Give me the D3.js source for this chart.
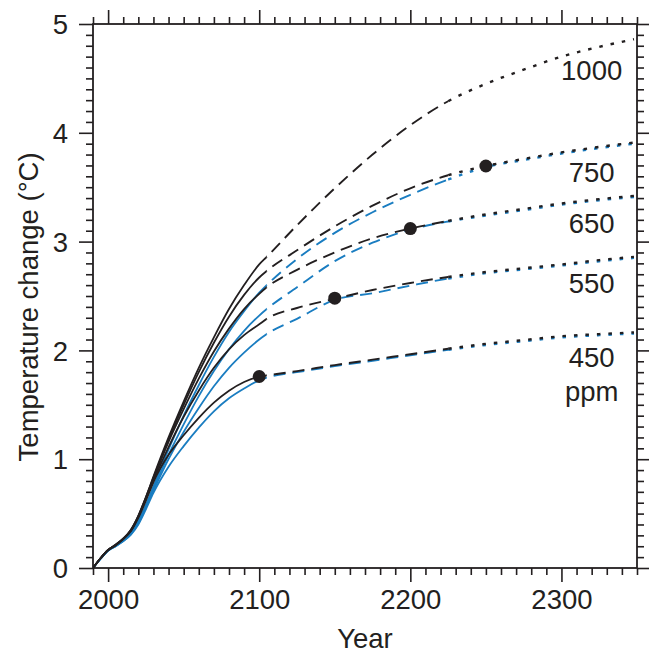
<!DOCTYPE html>
<html><head><meta charset="utf-8">
<script src="https://cdn.jsdelivr.net/npm/d3@7/dist/d3.min.js"></script>
<style>
html,body{margin:0;padding:0;background:#fff;}
svg{display:block;font-family:"Liberation Sans",Arial,Helvetica,sans-serif;}
</style></head>
<body><svg id="chart" width="649" height="654"></svg>
<script>
// ---- data ----
const years = [1990,1995,2000,2005,2010,2015,2020,2025,2030,2040,2050,2060,2070,2080,2090,2100,2105,2125,2150,2175,2200,2225,2250,2275,2300,2325,2348];
const black1000 = [0,0.09,0.165,0.215,0.27,0.35,0.48,0.65,0.84,1.20,1.53,1.84,2.12,2.38,2.60,2.79,2.86,3.15,3.49,3.80,4.07,4.29,4.45,4.58,4.70,4.79,4.86];
const black750  = [0,0.09,0.165,0.215,0.27,0.35,0.48,0.65,0.83,1.18,1.50,1.80,2.07,2.31,2.51,2.67,2.73,2.92,3.14,3.33,3.49,3.61,3.695,3.76,3.82,3.87,3.91];
const black650  = [0,0.09,0.165,0.21,0.27,0.34,0.47,0.64,0.82,1.16,1.46,1.74,1.99,2.20,2.38,2.52,2.58,2.74,2.90,3.03,3.12,3.19,3.25,3.30,3.35,3.39,3.42];
const black550  = [0,0.09,0.165,0.21,0.265,0.34,0.47,0.63,0.80,1.11,1.39,1.63,1.84,2.01,2.14,2.24,2.29,2.39,2.475,2.555,2.62,2.675,2.72,2.755,2.79,2.83,2.86];
const black450  = [0,0.09,0.165,0.21,0.265,0.34,0.46,0.62,0.79,1.04,1.22,1.38,1.52,1.63,1.71,1.76,1.77,1.81,1.865,1.915,1.965,2.015,2.06,2.095,2.13,2.15,2.165];
const blue750   = [0,0.085,0.16,0.205,0.255,0.32,0.43,0.58,0.75,1.09,1.40,1.68,1.94,2.17,2.36,2.53,2.60,2.84,3.08,3.27,3.43,3.57,3.685,3.75,3.81,3.86,3.90];
const blue650   = [0,0.085,0.16,0.205,0.25,0.315,0.42,0.57,0.73,1.04,1.32,1.58,1.81,2.01,2.18,2.32,2.38,2.58,2.82,2.99,3.11,3.185,3.24,3.29,3.34,3.38,3.41];
const blue550   = [0,0.085,0.16,0.2,0.25,0.31,0.41,0.56,0.71,1.00,1.25,1.47,1.67,1.84,1.98,2.10,2.15,2.29,2.465,2.525,2.595,2.66,2.71,2.745,2.78,2.82,2.85];
const blue450   = [0,0.085,0.16,0.2,0.245,0.305,0.40,0.54,0.69,0.93,1.12,1.29,1.44,1.56,1.65,1.725,1.75,1.80,1.855,1.905,1.955,2.005,2.05,2.085,2.12,2.14,2.155];
const stabYears  = [2100,2150,2200,2250];
const stabValues = [1.76,2.48,3.12,3.695];
const labelTexts = ["1000","750","650","550","450","ppm"];
const labelValues = [4.485,3.548,3.079,2.528,1.847,1.535];
const labelYear = 2320;
const xTicks = [2000,2100,2200,2300];
const yTicks = [0,1,2,3,4,5];
const solidEnd = 2105, dashEnd = 2225;

// ---- layout ----
const svg = d3.select("#chart");
const m = {l:93, t:24, r:12, b:86};
const W = 649 - m.l - m.r, H = 654 - m.t - m.b;
const x = d3.scaleLinear().domain([1990,2350]).range([m.l, m.l+W]);
const y = d3.scaleLinear().domain([0,5]).range([m.t+H, m.t]);
const ink = "#231f20", blue = "#1a7dc1";
const FS = "27.5px";

const series = [
  {v:blue750, c:blue}, {v:blue650, c:blue}, {v:blue550, c:blue}, {v:blue450, c:blue},
  {v:black1000, c:ink}, {v:black750, c:ink}, {v:black650, c:ink}, {v:black550, c:ink}, {v:black450, c:ink}
];
const line = d3.line().x(d=>x(d[0])).y(d=>y(d[1])).curve(d3.curveMonotoneX);
const defs = svg.append("defs");
const ranges = [[1990,solidEnd,null,0,1.8],[solidEnd,dashEnd,"12,7",12,1.9],[dashEnd,2350,"3.5,8",0,2.4]];
ranges.forEach((r,k)=>{
  defs.append("clipPath").attr("id","seg"+k).append("rect")
    .attr("x",x(r[0])).attr("y",0).attr("width",x(r[1])-x(r[0])).attr("height",654);
});
const g = svg.append("g");
series.forEach(s=>{
  const pts = years.map((yr,i)=>[yr,s.v[i]]);
  const full = line(pts);
  ranges.forEach((r,k)=>{
    const p = g.append("path").attr("d",full).attr("fill","none")
      .attr("stroke",s.c).attr("stroke-width",r[4])
      .attr("clip-path","url(#seg"+k+")");
    if(r[2]){
      const tmp = g.append("path").attr("d",line(pts.filter(q=>q[0]<=r[0]))).attr("fill","none");
      const L0 = tmp.node().getTotalLength(); tmp.remove();
      p.attr("stroke-dasharray",r[2]).attr("stroke-dashoffset",-L0 + r[3]);
    }
  });
});

// stabilization dots
g.selectAll("circle.stab").data(stabYears).enter().append("circle")
  .attr("cx",(d)=>x(d)).attr("cy",(d,i)=>y(stabValues[i])).attr("r",6.5).attr("fill",ink);

// labels
svg.selectAll("text.lab").data(labelTexts).enter().append("text")
  .attr("x",x(labelYear)).attr("y",(d,i)=>y(labelValues[i]))
  .attr("text-anchor","middle").attr("font-size",FS).attr("fill",ink).text(d=>d);

// axes
const minorX = d3.range(1990,2351,10).filter(v=>!xTicks.includes(v));
const minorY = d3.range(0,51).map(v=>v/10).filter(v=>Math.abs(v-Math.round(v))>1e-6);
function ax(gen, tr, vals, size, labels, pad){
  const a = svg.append("g").attr("transform",tr)
    .call(gen.tickValues(vals).tickSize(size).tickSizeOuter(0).tickPadding(pad||0).tickFormat(labels?d3.format("d"):""));
  a.select(".domain").remove();
  a.selectAll("line").attr("stroke",ink).attr("stroke-width",1.6);
  a.selectAll("text").attr("font-size",FS).attr("fill",ink).attr("font-family",null);
  return a;
}
ax(d3.axisBottom(x), `translate(0,${m.t+H})`, minorX, 7, false);
ax(d3.axisBottom(x), `translate(0,${m.t+H})`, xTicks, 14, true, 7);
ax(d3.axisTop(x), `translate(0,${m.t})`, minorX, 7, false);
ax(d3.axisTop(x), `translate(0,${m.t})`, xTicks, 14, false);
ax(d3.axisLeft(y), `translate(${m.l},0)`, minorY, 7, false);
const ly = ax(d3.axisLeft(y), `translate(${m.l},0)`, yTicks, 14, true, 11);
ly.selectAll("text").attr("dy","0.35em");
ax(d3.axisRight(y), `translate(${m.l+W},0)`, minorY, 7, false);
ax(d3.axisRight(y), `translate(${m.l+W},0)`, yTicks, 14, false);

svg.append("rect").attr("x",m.l).attr("y",m.t).attr("width",W).attr("height",H)
  .attr("fill","none").attr("stroke",ink).attr("stroke-width",1.8);

svg.append("text").attr("x",x(2170)).attr("y",648).attr("text-anchor","middle")
  .attr("font-size",FS).attr("fill",ink).text("Year");
svg.append("text").attr("transform",`translate(38,${y(2.4)}) rotate(-90)`).attr("text-anchor","middle")
  .attr("font-size",FS).attr("fill",ink).text("Temperature change (°C)");
</script></body></html>
